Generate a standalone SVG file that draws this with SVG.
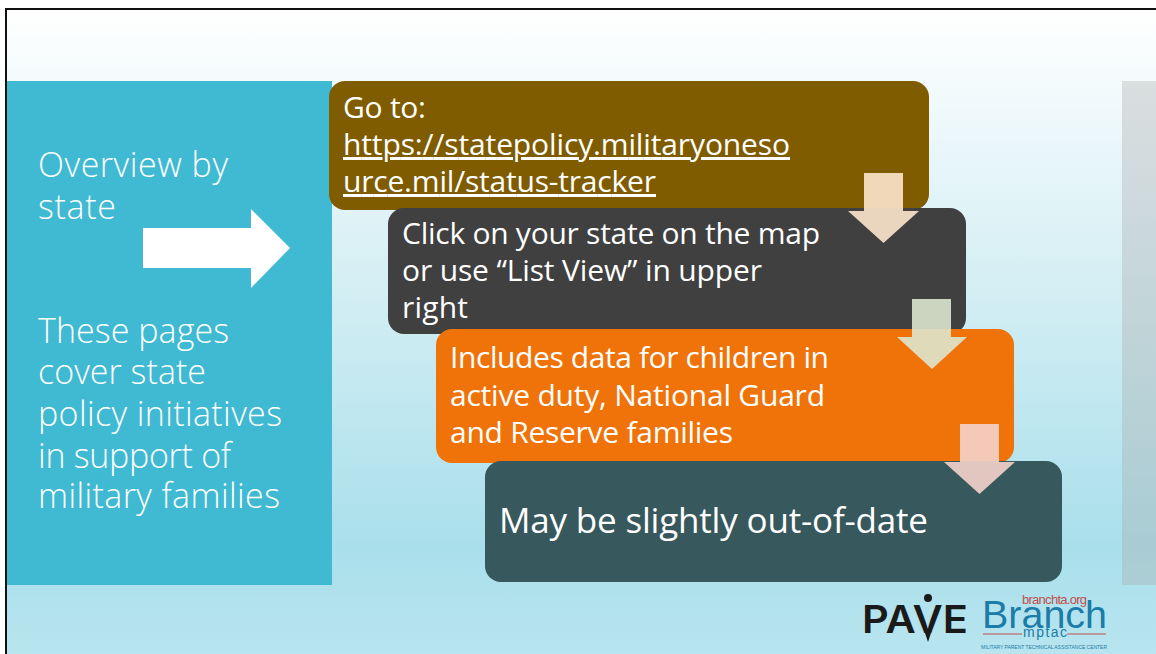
<svg xmlns="http://www.w3.org/2000/svg" width="1156" height="654" viewBox="0 0 1156 654">
<style>
text{font-family:"Open Sans","Noto Sans",sans-serif;fill:#fff}
.l{font-size:34px;font-weight:300}
.b{font-size:30px;font-weight:400}
.u{text-decoration:underline}
.s{font-family:"Liberation Sans",sans-serif}
.t{fill:#1b7ca8}
.r{fill:#c0504d}
</style>
<defs><linearGradient id="bg" x1="0" y1="0" x2="0" y2="1"><stop offset="0" stop-color="#fff"/><stop offset=".41" stop-color="#d6eff4"/><stop offset=".83" stop-color="#a9dfeb"/><stop offset="1" stop-color="#b8e5ef"/></linearGradient></defs>
<rect width="1156" height="654" fill="#fff"/>
<rect x="6" y="9" width="1151" height="646" fill="url(#bg)" stroke="#111" stroke-width="2"/>
<rect id="right-panel" x="1122" y="81" width="34" height="504" fill="#a8a8a8" fill-opacity=".35"/>
<g id="left-panel">
<rect x="7" y="81" width="325" height="504" fill="#40b9d3"/>
<text class="l" x="38" y="177" textLength="190">Overview by</text>
<text class="l" x="38" y="219" textLength="78">state</text>
<path d="M143 228H251V209L290 248L251 288V268H143Z" fill="#fff"/>
<text class="l" x="38" y="343" textLength="191">These pages</text>
<text class="l" x="38" y="384" textLength="168">cover state</text>
<text class="l" x="38" y="426" textLength="244">policy initiatives</text>
<text class="l" x="38" y="468" textLength="193">in support of</text>
<text class="l" x="38" y="508" textLength="242">military families</text>
</g>
<g id="step1">
<rect x="329" y="81" width="600" height="129" rx="16" fill="#7f5c00"/>
<text class="b" x="343" y="118" textLength="83">Go to:</text>
<text class="b u" x="343" y="155" textLength="447">https://statepolicy.militaryoneso</text>
<text class="b u" x="343" y="192" textLength="313">urce.mil/status-tracker</text>
</g>
<g id="step2">
<rect x="388" y="208" width="578" height="126" rx="16" fill="#404040"/>
<text class="b" x="402" y="244" textLength="418">Click on your state on the map</text>
<text class="b" x="402" y="281" textLength="360">or use “List View” in upper</text>
<text class="b" x="402" y="318" textLength="66">right</text>
</g>
<g id="step3">
<rect x="436" y="329" width="578" height="134" rx="16" fill="#f0730a"/>
<text class="b" x="450" y="368" textLength="379">Includes data for children in</text>
<text class="b" x="450" y="406" textLength="375">active duty, National Guard</text>
<text class="b" x="450" y="443" textLength="283">and Reserve families</text>
</g>
<g id="step4">
<rect x="485" y="461" width="577" height="121" rx="16" fill="#37585d"/>
<text x="499" y="533" style="font-size:35px" textLength="429">May be slightly out-of-date</text>
</g>
<g id="connectors">
<path d="M864 173H903V211H919L883.5 243L848 211H864Z" fill="#fde6cc" fill-opacity=".9"/>
<path d="M912 299H951V337H967L932 369L897 337H912Z" fill="#dbe5cd" fill-opacity=".9"/>
<path d="M960 424H999V462H1015L979.5 494L944 462H960Z" fill="#f5d3cb" fill-opacity=".9"/>
</g>
<g id="logo">
<text x="862" y="633" style="font-family:Inter,sans-serif;font-weight:600;font-size:38px;fill:#1a1a1a" textLength="106" lengthAdjust="spacingAndGlyphs">PAVE</text>
<path d="M924 630L928 642L932 630Z" fill="#1a1a1a"/>
<circle cx="928" cy="598" r="4" fill="#1a1a1a"/>
<text class="s t" x="982" y="628" style="font-size:39px" textLength="125" lengthAdjust="spacingAndGlyphs">Branch</text>
<text class="s r" x="1022" y="604" style="font-size:13px" textLength="65">branchta.org</text>
<text class="s t" x="1023" y="637" style="font-size:14px" textLength="44">mptac</text>
<path d="M983 634H1022M1067 634H1106" stroke="#c0504d" stroke-width="1"/>
<text class="s t" x="981" y="649" style="font-size:5px" textLength="126">MILITARY PARENT TECHNICAL ASSISTANCE CENTER</text>
</g>
</svg>
